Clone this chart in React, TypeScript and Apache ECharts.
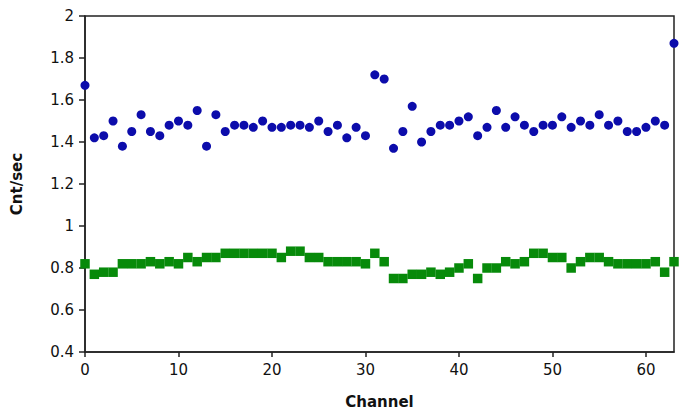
import React, { useEffect, useRef } from "react";
import * as echarts from "echarts";

const channels = [
  0, 1, 2, 3, 4, 5, 6, 7, 8, 9, 10, 11, 12, 13, 14, 15, 16, 17, 18, 19, 20, 21,
  22, 23, 24, 25, 26, 27, 28, 29, 30, 31, 32, 33, 34, 35, 36, 37, 38, 39, 40, 41,
  42, 43, 44, 45, 46, 47, 48, 49, 50, 51, 52, 53, 54, 55, 56, 57, 58, 59, 60, 61,
  62, 63,
];

const blueValues = [
  1.67, 1.42, 1.43, 1.5, 1.38, 1.45, 1.53, 1.45, 1.43, 1.48,
  1.5, 1.48, 1.55, 1.38, 1.53, 1.45, 1.48, 1.48, 1.47, 1.5,
  1.47, 1.47, 1.48, 1.48, 1.47, 1.5, 1.45, 1.48, 1.42, 1.47,
  1.43, 1.72, 1.7, 1.37, 1.45, 1.57, 1.4, 1.45, 1.48, 1.48,
  1.5, 1.52, 1.43, 1.47, 1.55, 1.47, 1.52, 1.48, 1.45, 1.48,
  1.48, 1.52, 1.47, 1.5, 1.48, 1.53, 1.48, 1.5, 1.45, 1.45,
  1.47, 1.5, 1.48, 1.87,
];

const greenValues = [
  0.82, 0.77, 0.78, 0.78, 0.82, 0.82, 0.82, 0.83, 0.82, 0.83,
  0.82, 0.85, 0.83, 0.85, 0.85, 0.87, 0.87, 0.87, 0.87, 0.87,
  0.87, 0.85, 0.88, 0.88, 0.85, 0.85, 0.83, 0.83, 0.83, 0.83,
  0.82, 0.87, 0.83, 0.75, 0.75, 0.77, 0.77, 0.78, 0.77, 0.78,
  0.8, 0.82, 0.75, 0.8, 0.8, 0.83, 0.82, 0.83, 0.87, 0.87,
  0.85, 0.85, 0.8, 0.83, 0.85, 0.85, 0.83, 0.82, 0.82, 0.82,
  0.82, 0.83, 0.78, 0.83,
];

const xTicks = [0, 10, 20, 30, 40, 50, 60];

export default function App() {
  const ref = useRef<HTMLDivElement>(null);
  useEffect(() => {
    if (!ref.current) return;
    const chart = echarts.init(ref.current, null, { renderer: "svg" });
    const font = "DejaVu Sans, Verdana, sans-serif";
    chart.setOption({
      animation: false,
      backgroundColor: "#ffffff",
      grid: {
        left: 85,
        right: 7,
        top: 16,
        bottom: 60,
        show: true,
        borderColor: "#222",
        borderWidth: 1.5,
        backgroundColor: "transparent",
      },
      xAxis: {
        type: "value",
        min: 0,
        max: 63,
        interval: 10,
        name: "Channel",
        nameLocation: "middle",
        nameGap: 42,
        nameTextStyle: { fontFamily: font, fontSize: 15, fontWeight: "bold", color: "#111" },
        axisLine: { show: true, onZero: false, lineStyle: { color: "#222", width: 1.5 } },
        axisTick: { show: true, length: 5, customValues: xTicks, lineStyle: { color: "#222", width: 1.5 } },
        axisLabel: { customValues: xTicks, margin: 10, fontFamily: font, fontSize: 15, color: "#111" },
        splitLine: { show: false },
      },
      yAxis: {
        type: "value",
        min: 0.4,
        max: 2,
        interval: 0.2,
        name: "Cnt/sec",
        nameLocation: "middle",
        nameGap: 61,
        nameTextStyle: { fontFamily: font, fontSize: 15, fontWeight: "bold", color: "#111" },
        axisLine: { show: true, lineStyle: { color: "#222", width: 1.5 } },
        axisTick: { show: true, length: 6, lineStyle: { color: "#222", width: 1.5 } },
        axisLabel: {
          margin: 11,
          fontFamily: font,
          fontSize: 15,
          color: "#111",
          formatter: (v: number) => String(Math.round(v * 10) / 10),
        },
        splitLine: { show: false },
      },
      series: [
        {
          type: "scatter",
          symbol: "circle",
          symbolSize: 9,
          itemStyle: { color: "#0c0cab", opacity: 1 },
          data: blueValues.map((v, i) => [channels[i], v]),
        },
        {
          type: "scatter",
          symbol: "rect",
          symbolSize: 9.5,
          itemStyle: { color: "#078a0a", opacity: 1 },
          data: greenValues.map((v, i) => [channels[i], v]),
        },
      ],
    });
    return () => chart.dispose();
  }, []);
  return (
    <div
      ref={ref}
      style={{ position: "fixed", left: 0, top: 0, width: 681, height: 414 }}
    />
  );
}
